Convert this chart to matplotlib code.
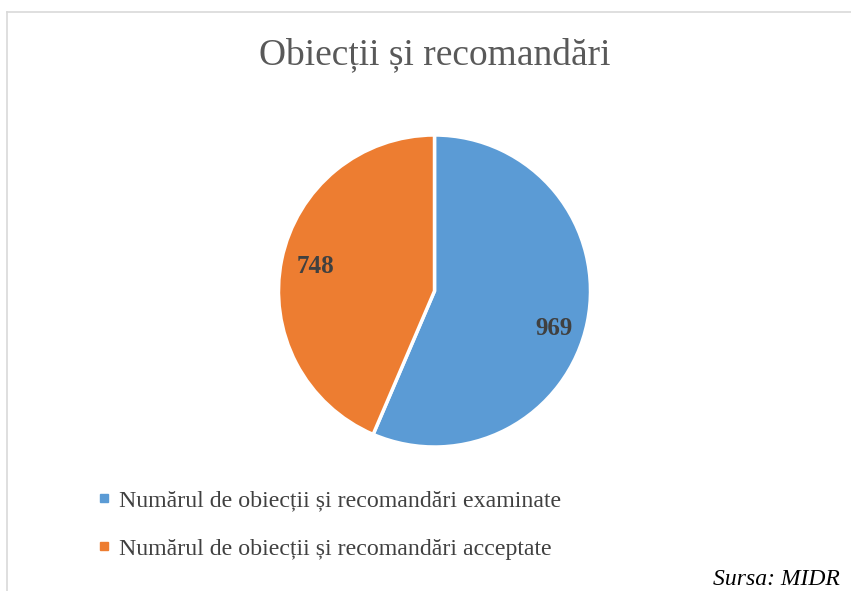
import matplotlib
matplotlib.use('Agg')
import matplotlib.pyplot as plt
from matplotlib.lines import Line2D
from matplotlib.transforms import offset_copy

title = 'Obiecții și recomandări'
labels = ['Numărul de obiecții și recomandări examinate',
          'Numărul de obiecții și recomandări acceptate']
values = [969, 748]
colors = ['#5B9BD5', '#ED7D31']
source = 'Sursa: MIDR'

W, H = 851, 591
fig = plt.figure(figsize=(W / 100, H / 100), dpi=100)
plt.rcParams['font.family'] = ['Liberation Serif', 'DejaVu Serif']

# chart frame (only top and left edges visible in the crop)
fig.add_artist(Line2D([6.5 / W, 1], [1 - 11.5 / H, 1 - 11.5 / H], color='#D9D9D9', lw=1.2))
fig.add_artist(Line2D([6.5 / W, 6.5 / W], [0, 1 - 11.5 / H], color='#D9D9D9', lw=1.2))

cx, cy, r = 434.5, 291, 156
ax = fig.add_axes([(cx - r) / W, (H - cy - r) / H, 2 * r / W, 2 * r / H])
total = sum(values)
wedges, texts, autotexts = ax.pie(
    values, colors=colors, startangle=90, counterclock=False,
    autopct=lambda p: f'{round(p * total / 100)}', pctdistance=0.78,
    wedgeprops=dict(edgecolor='white', linewidth=2.5))
for t in autotexts:
    t.set_fontsize(18)
    t.set_fontweight('bold')
    t.set_color('#404040')
# Excel nudges the first label a bit lower than the slice mid-angle
autotexts[0].set_transform(offset_copy(ax.transData, fig=fig, x=0, y=-13, units='dots'))
ax.set_xlim(-1.0, 1.0)
ax.set_ylim(-1.0, 1.0)
ax.set_aspect('equal')

fig.text(435 / W, 1 - 55 / H, title, ha='center', va='center', fontsize=27, color='#595959')

handles = [Line2D([], [], marker='s', linestyle='none', markersize=6,
                  markerfacecolor=c, markeredgecolor=c) for c in colors]
leg = fig.legend(handles, labels, loc='upper left', bbox_to_anchor=(93 / W, 1 - 490 / H),
                 frameon=False, fontsize=17.2, labelspacing=1.1, handletextpad=0.2,
                 handlelength=0.9, borderaxespad=0, borderpad=0)
for t in leg.get_texts():
    t.set_color('#404040')

fig.text(840 / W, 1 - 590 / H, source, ha='right', va='bottom', fontsize=17,
         style='italic', color='black')

fig.savefig('out.png', dpi=100)
